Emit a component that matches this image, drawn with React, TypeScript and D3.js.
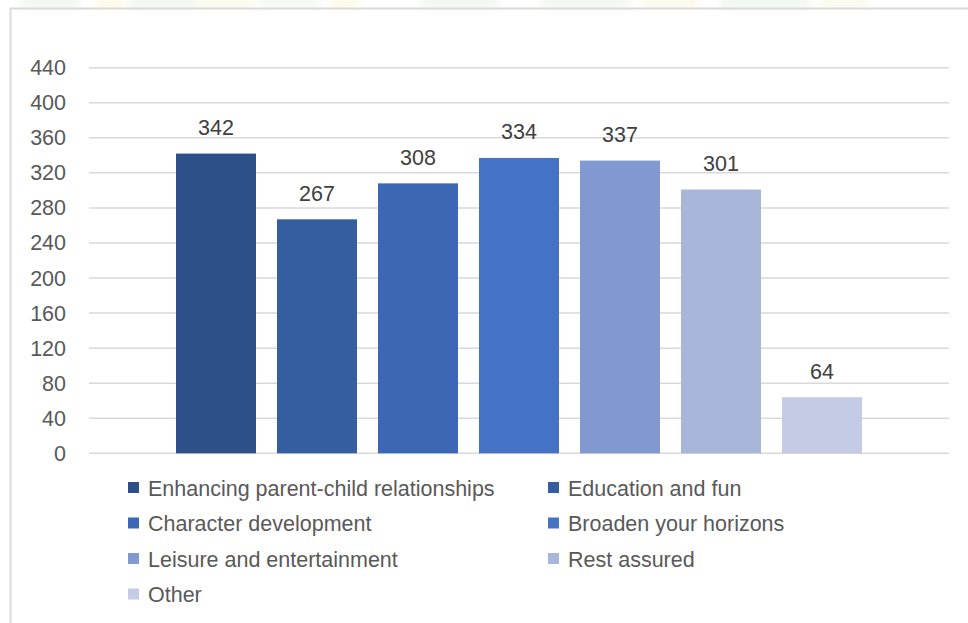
import React from "react";
import * as d3 from "d3";

const categories = [
  "Enhancing parent-child relationships",
  "Education and fun",
  "Character development",
  "Broaden your horizons",
  "Leisure and entertainment",
  "Rest assured",
  "Other",
];
const values = [342, 267, 308, 337, 334, 301, 64];
const labels = ["342", "267", "308", "334", "337", "301", "64"];
const colors = ["#2E5089", "#355EA0", "#3C67B4", "#4472C4", "#8199D0", "#A8B6DA", "#C4CCE5"];
const yTicks = [0, 40, 80, 120, 160, 200, 240, 280, 320, 360, 400, 440];

const W = 968;
const H = 623;
const FONT = "'Liberation Sans', Arial, sans-serif";
const FS = 21.5;

export default function App() {
  const plotLeft = 89;
  const plotRight = 949;
  const y = d3.scaleLinear().domain([0, 440]).range([453.3, 67.7]);
  const x = d3
    .scaleBand<string>()
    .domain(categories)
    .range([176, 862])
    .paddingInner(21 / 101)
    .paddingOuter(0);
  const legCols = [122, 542];
  const legRow0 = 488;
  const legStep = 35.5;

  return (
    <svg
      width={W}
      height={H}
      style={{ position: "absolute", left: 0, top: 0, display: "block", background: "#fff" }}
    >
      <defs>
        <filter id="blur" x="-20%" y="-300%" width="140%" height="700%">
          <feGaussianBlur stdDeviation="4" />
        </filter>
      </defs>
      <g filter="url(#blur)" opacity={0.4}>
        <rect x={20} y={-4} width={60} height={14} fill="#dfeede" />
        <rect x={95} y={-4} width={30} height={14} fill="#fbefc9" />
        <rect x={130} y={-4} width={70} height={14} fill="#dbeadb" />
        <rect x={195} y={-4} width={60} height={14} fill="#f9f0d4" />
        <rect x={260} y={-4} width={60} height={14} fill="#e5efe2" />
        <rect x={330} y={-4} width={30} height={14} fill="#fbefc9" />
        <rect x={420} y={-4} width={80} height={14} fill="#dfeede" />
        <rect x={540} y={-4} width={90} height={14} fill="#e3eedf" />
        <rect x={640} y={-4} width={60} height={14} fill="#fbf0d0" />
        <rect x={720} y={-4} width={90} height={14} fill="#dcebdb" />
        <rect x={820} y={-4} width={50} height={14} fill="#f7f1d7" />
      </g>
      <line x1={10} x2={W} y1={8.5} y2={8.5} stroke="#d9d9d9" strokeWidth={2} />
      <line x1={10.5} x2={10.5} y1={8} y2={H} stroke="#d9d9d9" strokeWidth={2} />

      {yTicks.map((t) => (
        <line
          key={t}
          x1={plotLeft}
          x2={plotRight}
          y1={y(t)}
          y2={y(t)}
          stroke="#d9d9d9"
          strokeWidth={1.5}
        />
      ))}
      {yTicks.map((t) => (
        <text
          key={"l" + t}
          x={66}
          y={y(t)}
          dy="0.35em"
          textAnchor="end"
          fontFamily={FONT}
          fontSize={FS}
          fill="#595959"
        >
          {t}
        </text>
      ))}

      {categories.map((c, i) => (
        <rect
          key={c}
          x={x(c)}
          y={y(values[i])}
          width={x.bandwidth()}
          height={y(0) - y(values[i])}
          fill={colors[i]}
        />
      ))}
      {categories.map((c, i) => (
        <text
          key={"d" + c}
          x={(x(c) as number) + x.bandwidth() / 2}
          y={y(values[i]) - 18.5}
          textAnchor="middle"
          fontFamily={FONT}
          fontSize={FS}
          fill="#404040"
        >
          {labels[i]}
        </text>
      ))}

      {categories.map((c, i) => {
        const col = i % 2;
        const row = Math.floor(i / 2);
        const lx = legCols[col];
        const ly = legRow0 + row * legStep;
        return (
          <g key={"lg" + c}>
            <rect x={lx + 6} y={ly - 6} width={11} height={11} fill={colors[i]} />
            <text
              x={lx + 26}
              y={ly}
              dy="0.35em"
              fontFamily={FONT}
              fontSize={FS}
              fill="#595959"
            >
              {c}
            </text>
          </g>
        );
      })}
    </svg>
  );
}
